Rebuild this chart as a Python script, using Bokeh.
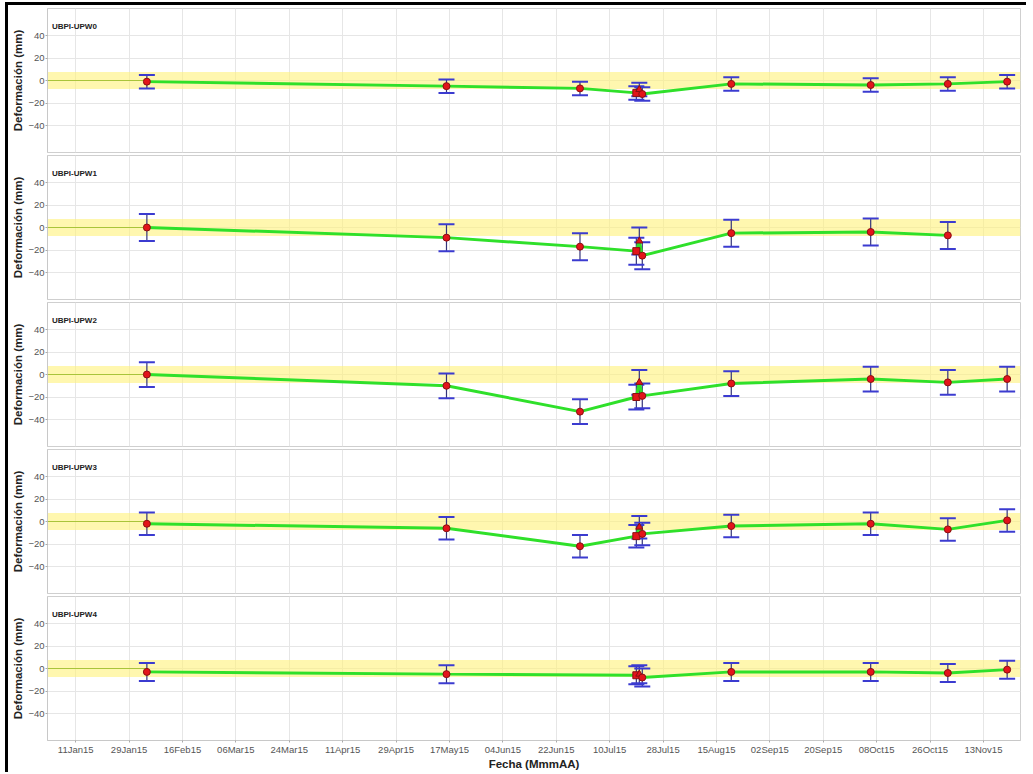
import pandas as pd
from bokeh.plotting import figure
from bokeh.layouts import column
from bokeh.models import (ColumnDataSource, Whisker, TeeHead, BoxAnnotation,
                          FixedTicker, DatetimeTickFormatter, Range1d, Label)
from bokeh.embed import file_html
from bokeh.resources import INLINE

# Survey dates (shared by all monitoring points)
dates = ["2015-02-04", "2015-05-16", "2015-06-30", "2015-07-19", "2015-07-20",
         "2015-07-21", "2015-08-20", "2015-10-06", "2015-11-01", "2015-11-21"]
markers = ["circle", "circle", "circle", "square", "triangle",
           "circle", "circle", "circle", "circle", "circle"]

# Deformation readings (mm); None = no reading on that date
station_names = ["UBPI-UPW0", "UBPI-UPW1", "UBPI-UPW2", "UBPI-UPW3", "UBPI-UPW4"]
upw0 = [-1, -5, -7, -11, -8, -12, -3, -4, -3, -1]
upw1 = [0, -9, -17, -21, -12, -25, -5, -4, -7, None]
upw2 = [0, -10, -33, -20, -7, -19, -8, -4, -7, -4]
upw3 = [-2, -6, -22, -13, -5, -11, -4, -2, -7, 1]
upw4 = [-3, -5, None, -6, -5, -8, -3, -3, -4, -1]
series = [upw0, upw1, upw2, upw3, upw4]

# Measurement uncertainty per station (± mm)
uncertainty = [6, 12, 11, 10, 8]

# Tolerance band (± mm) and reference level
tolerance = 7.5
reference_level = 0

# Axis settings
tick_dates = ["2015-01-11", "2015-01-29", "2015-02-16", "2015-03-06", "2015-03-24",
              "2015-04-11", "2015-04-29", "2015-05-17", "2015-06-04", "2015-06-22",
              "2015-07-10", "2015-07-28", "2015-08-15", "2015-09-02", "2015-09-20",
              "2015-10-08", "2015-10-26", "2015-11-13"]
y_ticks = [-40, -20, 0, 20, 40]
x_start, x_end = "2015-01-01 12:00", "2015-11-25 12:00"
y_min, y_max = -64, 64

FONT = "Liberation Sans"


def ms(d):
    return pd.Timestamp(d).value / 1e6


tick_ms = [ms(d) for d in tick_dates]
figs = []
for i, (name, vals, err) in enumerate(zip(station_names, series, uncertainty)):
    keep = [j for j, v in enumerate(vals) if v is not None]
    xs = [pd.Timestamp(dates[j]) for j in keep]
    ys = [vals[j] for j in keep]
    src = ColumnDataSource(dict(
        x=xs, y=ys,
        upper=[v + err for v in ys], lower=[v - err for v in ys],
        marker=[markers[j] for j in keep],
    ))

    last = i == len(station_names) - 1
    p = figure(frame_width=973, frame_height=144, x_axis_type="datetime",
               x_range=Range1d(ms(x_start), ms(x_end)),
               y_range=Range1d(y_min, y_max),
               output_backend="svg", toolbar_location=None,
               min_border_left=39, min_border_right=6,
               min_border_top=3 if i == 0 else 1,
               min_border_bottom=2)
    p.background_fill_color = "white"
    p.border_fill_color = "white"
    p.outline_line_color = "#cfcfcf"

    # tolerance band
    p.add_layout(BoxAnnotation(bottom=-tolerance, top=tolerance,
                               fill_color="#fff27a", fill_alpha=0.6,
                               line_color=None, level="underlay"))

    # grids
    p.xgrid.ticker = FixedTicker(ticks=tick_ms)
    p.ygrid.ticker = FixedTicker(ticks=y_ticks)
    p.xgrid.grid_line_color = "#e6e6e6"
    p.ygrid.grid_line_color = "#e6e6e6"

    # reference line before first survey
    p.line([ms(x_start), ms(dates[keep[0]])], [reference_level, reference_level],
           line_color="#a9c43a", line_width=1.2)

    # deformation trend
    p.line("x", "y", source=src, line_color="#2fe02a", line_width=3)

    # error bars
    head = dict(size=16, line_color="#3b3bd0", line_width=2)
    p.add_layout(Whisker(source=src, base="x", upper="upper", lower="lower",
                         dimension="height", line_color="#33337a", line_width=1.2,
                         upper_head=TeeHead(**head), lower_head=TeeHead(**head)))

    p.scatter("x", "y", source=src, marker="marker", size=7,
              fill_color="#e3141a", line_color="#8a1010", line_width=1)

    p.add_layout(Label(x=ms("2015-01-03"), y=48, text=name,
                       text_font=FONT, text_font_size="8px",
                       text_font_style="bold", text_color="#222222",
                       text_baseline="middle"))

    # y axis
    p.yaxis.ticker = FixedTicker(ticks=y_ticks)
    p.yaxis.axis_label = "Deformación (mm)"
    p.yaxis.axis_label_text_font = FONT
    p.yaxis.axis_label_text_font_size = "11.5px"
    p.yaxis.axis_label_text_font_style = "bold"
    p.yaxis.axis_label_text_color = "#222222"
    p.yaxis.axis_label_standoff = 1
    p.yaxis.major_label_text_font = FONT
    p.yaxis.major_label_text_font_size = "9.5px"
    p.yaxis.major_label_text_color = "#555555"
    p.yaxis.major_label_standoff = 1
    p.yaxis.axis_line_color = "#c8c8c8"
    p.yaxis.major_tick_line_color = "#aaaaaa"
    p.yaxis.major_tick_out = 2
    p.yaxis.major_tick_in = 0
    p.yaxis.minor_tick_line_color = None

    # x axis only on the bottom panel
    p.xaxis.ticker = FixedTicker(ticks=tick_ms)
    fmt = "%d%b%y"
    p.xaxis.formatter = DatetimeTickFormatter(
        milliseconds=fmt, seconds=fmt, minsec=fmt, minutes=fmt, hourmin=fmt,
        hours=fmt, days=fmt, months=fmt, years=fmt)
    if last:
        p.xaxis.axis_label = "Fecha (MmmAA)"
        p.xaxis.axis_label_text_font = FONT
        p.xaxis.axis_label_text_font_size = "11.5px"
        p.xaxis.axis_label_text_font_style = "bold"
        p.xaxis.axis_label_text_color = "#222222"
        p.xaxis.axis_label_standoff = 0
        p.xaxis.major_label_text_font = FONT
        p.xaxis.major_label_text_font_size = "9.5px"
        p.xaxis.major_label_text_color = "#555555"
        p.xaxis.major_label_standoff = 1
        p.xaxis.axis_line_color = "#c8c8c8"
        p.xaxis.major_tick_line_color = "#aaaaaa"
        p.xaxis.major_tick_out = 2
        p.xaxis.major_tick_in = 0
        p.xaxis.minor_tick_line_color = None
    else:
        p.xaxis.visible = False
    figs.append(p)

layout = column(*figs, spacing=0, margin=(2, 0, 0, 5),
                styles={"border-left": "3px solid #000", "border-top": "3px solid #000"})

with open("out.html", "w") as f:
    f.write(file_html(layout, INLINE))
